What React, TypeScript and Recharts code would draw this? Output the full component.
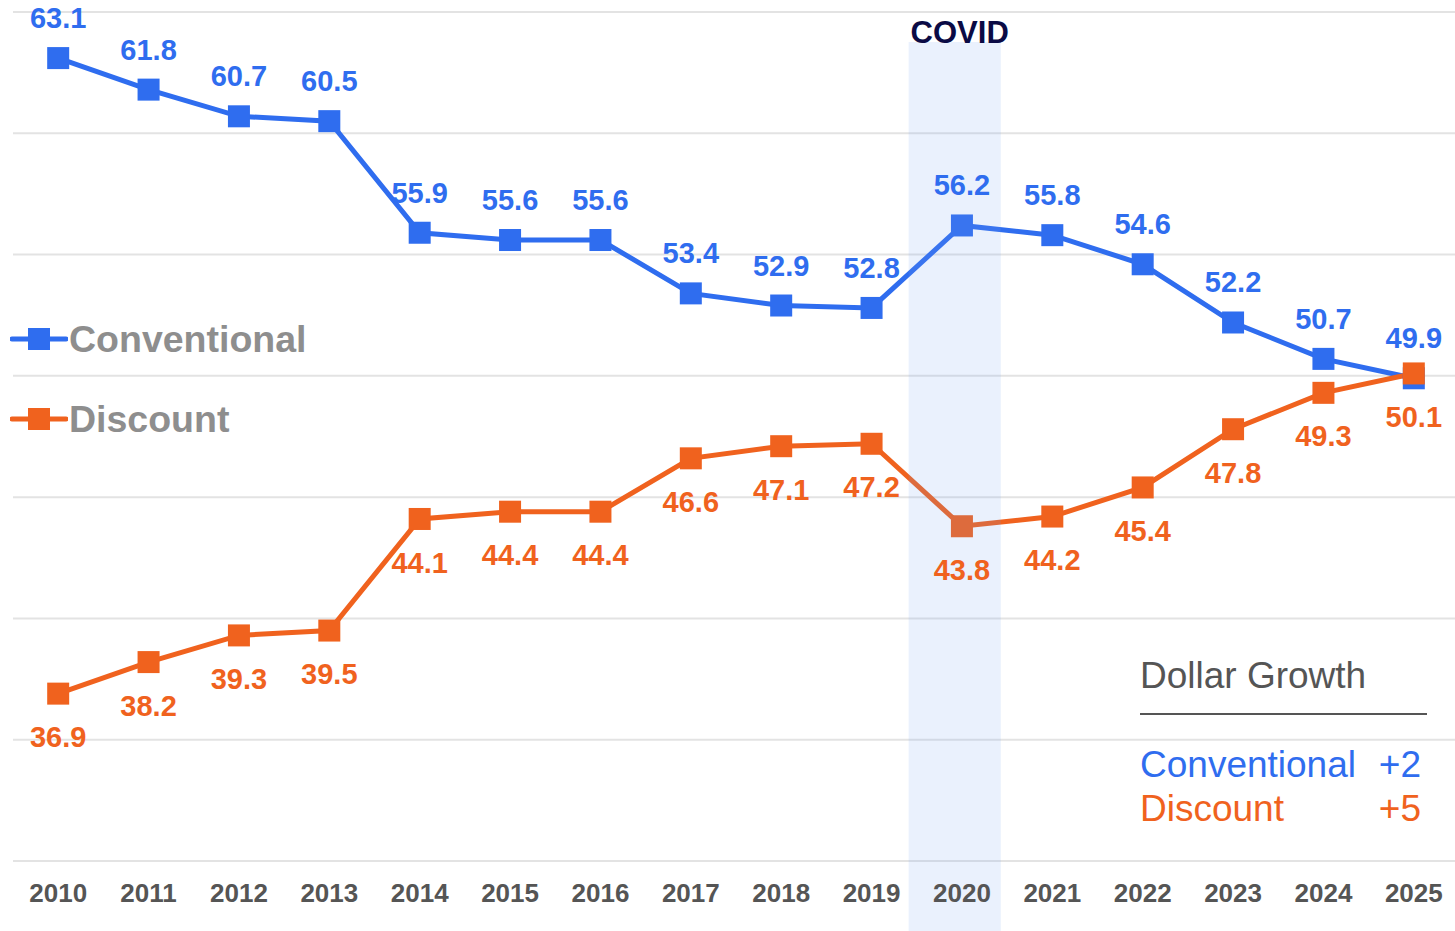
import React from "react";
import {
  LineChart,
  Line,
  XAxis,
  YAxis,
  CartesianGrid,
  ReferenceArea,
  LabelList,
  Legend,
} from "recharts";

const years = [
  2010, 2011, 2012, 2013, 2014, 2015, 2016, 2017, 2018, 2019, 2020, 2021,
  2022, 2023, 2024, 2025,
];
const conventional = [
  63.1, 61.8, 60.7, 60.5, 55.9, 55.6, 55.6, 53.4, 52.9, 52.8, 56.2, 55.8,
  54.6, 52.2, 50.7, 49.9,
];
const discount = [
  36.9, 38.2, 39.3, 39.5, 44.1, 44.4, 44.4, 46.6, 47.1, 47.2, 43.8, 44.2,
  45.4, 47.8, 49.3, 50.1,
];
const yTicks = [30, 35, 40, 45, 50, 55, 60, 65];
const growth = [
  { name: "Conventional", value: "+2" },
  { name: "Discount", value: "+5" },
];

const BLUE = "#2f6def";
const ORANGE = "#f0621e";
const FONT = "'Liberation Sans', Arial, sans-serif";

const data = years.map((y, i) => ({
  year: y,
  Conventional: conventional[i],
  Discount: discount[i],
}));

const SquareDot = (props: any) => {
  const { cx, cy, stroke } = props;
  if (cx == null || cy == null) return null;
  return <rect x={cx - 11} y={cy - 11} width={22} height={22} fill={stroke} />;
};

const LegendContent = (props: any) => {
  const { payload } = props;
  return (
    <div style={{ fontFamily: FONT }}>
      {(payload || []).map((p: any, i: number) => (
        <div
          key={p.value}
          style={{
            display: "flex",
            alignItems: "center",
            height: 44,
            marginBottom: i === 0 ? 36 : 0,
          }}
        >
          <svg width={58} height={30} style={{ marginLeft: 10 }}>
            <line x1={2} y1={15} x2={56} y2={15} stroke={p.color} strokeWidth={5} strokeLinecap="round" />
            <rect x={18} y={4} width={22} height={22} fill={p.color} />
          </svg>
          <span
            style={{
              color: "#8e8e8e",
              fontWeight: 700,
              fontSize: 37.5,
              marginLeft: 1,
            }}
          >
            {p.value}
          </span>
        </div>
      ))}
    </div>
  );
};

export default function App() {
  return (
    <div
      style={{
        position: "absolute",
        left: 0,
        top: 0,
        width: 1455,
        height: 931,
        overflow: "hidden",
        background: "#fff",
        fontFamily: FONT,
      }}
    >
      <LineChart
        width={1470}
        height={931}
        data={data}
        margin={{ top: 12, right: 11, left: 13, bottom: 30 }}
      >
        <CartesianGrid vertical={false} stroke="#e3e3e3" strokeWidth={2} />
        <XAxis
          dataKey="year"
          type="number"
          domain={[2009.5, 2025.5]}
          ticks={years}
          allowDataOverflow
          axisLine={false}
          tickLine={false}
          height={40}
          tickMargin={17}
          tick={{ fontSize: 26, fontWeight: 700, fill: "#555555", fontFamily: FONT }}
        />
        <YAxis hide domain={[30, 65]} ticks={yTicks} />
        <Legend
          layout="horizontal"
          verticalAlign="middle"
          align="center"
          wrapperStyle={{ left: 0, top: 317, width: 340 }}
          content={<LegendContent />}
        />
        <Line
          dataKey="Conventional"
          stroke={BLUE}
          strokeWidth={5}
          dot={<SquareDot />}
          activeDot={false}
          isAnimationActive={false}
        >
          <LabelList
            dataKey="Conventional"
            position="top"
            offset={30}
            fill={BLUE}
            style={{ fontSize: 29, fontWeight: 700, fontFamily: FONT }}
          />
        </Line>
        <Line
          dataKey="Discount"
          stroke={ORANGE}
          strokeWidth={5}
          dot={<SquareDot />}
          activeDot={false}
          isAnimationActive={false}
        >
          <LabelList
            dataKey="Discount"
            position="bottom"
            offset={33}
            fill={ORANGE}
            style={{ fontSize: 29, fontWeight: 700, fontFamily: FONT }}
          />
        </Line>
        <ReferenceArea
          x1={2019.41}
          x2={2020.43}
          y1={63.76}
          y2={27}
          ifOverflow="visible"
          fill="rgb(115,162,242)"
          fillOpacity={0.15}
          stroke="none"
          zIndex={1000}
          label={{
            value: "COVID",
            position: "top",
            offset: -1,
            dx: 5,
            fill: "#0b0b45",
            fontSize: 31,
            fontWeight: 700,
            fontFamily: FONT,
          }}
        />
      </LineChart>
      <div
        style={{
          position: "absolute",
          left: 1140,
          top: 654,
          width: 287,
          fontFamily: FONT,
        }}
      >
        <div style={{ fontSize: 37, color: "#555555", lineHeight: "44px" }}>
          Dollar Growth
        </div>
        <div style={{ height: 2, background: "#555555", marginTop: 15 }} />
        <div style={{ marginTop: 28 }}>
          {growth.map((g, i) => (
            <div
              key={g.name}
              style={{
                display: "flex",
                justifyContent: "space-between",
                width: 281,
                fontSize: 37,
                lineHeight: "44px",
                color: i === 0 ? BLUE : ORANGE,
              }}
            >
              <span>{g.name}</span>
              <span>{g.value}</span>
            </div>
          ))}
        </div>
      </div>
    </div>
  );
}
